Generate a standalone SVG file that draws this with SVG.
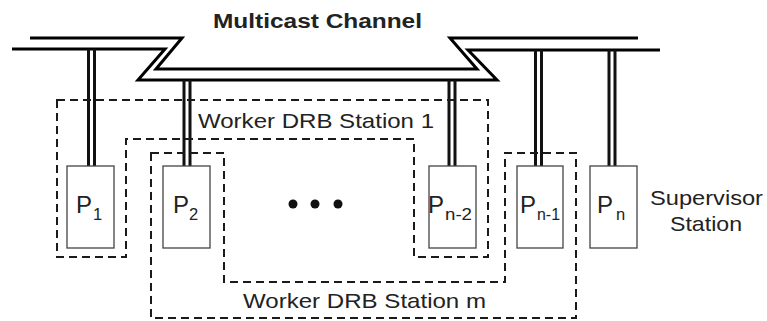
<svg xmlns="http://www.w3.org/2000/svg" width="767" height="321" viewBox="0 0 767 321">
<style>
.bus{fill:none;stroke:#000;stroke-width:3;stroke-linejoin:miter;stroke-miterlimit:10}
.drop{fill:none;stroke:#111;stroke-width:3}
.box{fill:#fff;stroke:#444;stroke-width:1.3}
.grp{fill:none;stroke:#1a1a1a;stroke-width:2;stroke-dasharray:8 5}
.lbl{font-family:"Liberation Sans",Arial,sans-serif;fill:#222}
.p{font-size:24px}
.sub{font-size:16.5px}
.big{font-size:21px}
</style>
<rect width="767" height="321" fill="#fff"/>
<g id="channel">
<path class="bus" d="M30,38 L182,38 L156,69 L477,69 L450,38 L638,38"/>
<path class="bus" d="M12,49 L165,49 L138,80 L497,80 L468,50 L660,50"/>
<text class="lbl" x="213" y="28" font-size="20" font-weight="bold" fill="#000" textLength="209" lengthAdjust="spacingAndGlyphs">Multicast Channel</text>
</g>
<g id="connectors">
<path class="drop" d="M88.5,49V166M94.5,49V166"/>
<path class="drop" d="M184,80V166M190,80V166"/>
<path class="drop" d="M449,80V166M455,80V166"/>
<path class="drop" d="M535.5,50V166M541.5,50V166"/>
<path class="drop" d="M609,50V166M615,50V166"/>
</g>
<g id="station1">
<path class="grp" d="M57,100 H488 V257 H414 V139 H126 V257 H57 Z"/>
<text class="lbl big" x="198" y="128" textLength="236" lengthAdjust="spacingAndGlyphs">Worker DRB Station 1</text>
</g>
<g id="stationm">
<path class="grp" d="M151,153 H224 V282 H505 V153 H576 V318 H151 Z"/>
<text class="lbl big" x="243" y="308" textLength="243" lengthAdjust="spacingAndGlyphs">Worker DRB Station m</text>
</g>
<g id="p1">
<rect class="box" x="67" y="166" width="47" height="82"/>
<text class="lbl p" x="76" y="213">P</text>
<text class="lbl sub" x="93" y="220">1</text>
</g>
<g id="p2">
<rect class="box" x="163" y="166" width="47" height="82"/>
<text class="lbl p" x="173" y="213">P</text>
<text class="lbl sub" x="189" y="220">2</text>
</g>
<g id="dots">
<circle cx="293" cy="204" r="4.5" fill="#111"/>
<circle cx="315" cy="204" r="4.5" fill="#111"/>
<circle cx="338" cy="204" r="4.5" fill="#111"/>
</g>
<g id="pn2">
<rect class="box" x="429" y="166" width="47" height="82"/>
<text class="lbl p" x="428" y="213">P</text>
<text class="lbl sub" x="445" y="220" textLength="27" lengthAdjust="spacingAndGlyphs">n-2</text>
</g>
<g id="pn1">
<rect class="box" x="517" y="166" width="46" height="82"/>
<text class="lbl p" x="520" y="213">P</text>
<text class="lbl sub" x="537" y="220" textLength="23" lengthAdjust="spacingAndGlyphs">n-1</text>
</g>
<g id="pn">
<rect class="box" x="590" y="166" width="47" height="82"/>
<text class="lbl p" x="597" y="213">P</text>
<text class="lbl sub" x="616" y="220">n</text>
</g>
<g id="supervisor">
<text class="lbl big" x="650" y="205" textLength="113" lengthAdjust="spacingAndGlyphs">Supervisor</text>
<text class="lbl big" x="670" y="231" textLength="72" lengthAdjust="spacingAndGlyphs">Station</text>
</g>
</svg>
